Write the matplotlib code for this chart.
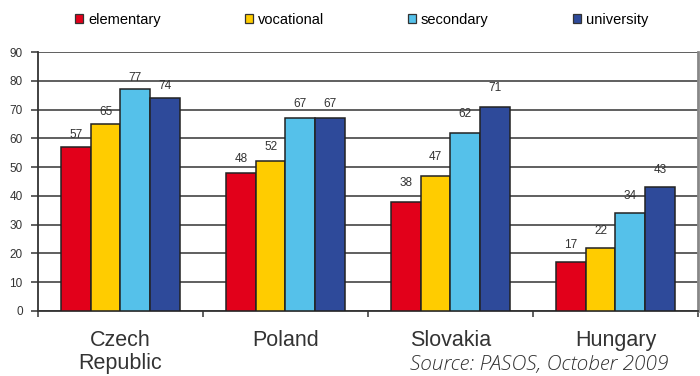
import matplotlib.pyplot as plt
import numpy as np
from matplotlib.patches import Patch

countries = ["Czech\nRepublic", "Poland", "Slovakia", "Hungary"]
levels = ["elementary", "vocational", "secondary", "university"]
elementary = [57, 48, 38, 17]
vocational = [65, 52, 47, 22]
secondary = [77, 67, 62, 34]
university = [74, 67, 71, 43]
colors = ["#E2001A", "#FFCC00", "#55C1EA", "#2E4A9A"]
# label gap above bar (points), the original is not consistent between groups
label_gap = [4, 6, 9, 8]

series = [elementary, vocational, secondary, university]
FONT = "Liberation Sans"

fig = plt.figure(figsize=(7, 3.76), dpi=100)
ax = fig.add_axes([0.0543, 0.1729, 0.9427, 0.6888])

x = np.arange(len(countries))
w = 0.18
for i, (vals, col) in enumerate(zip(series, colors)):
    pos = x + (i - 1.5) * w
    ax.bar(pos, vals, width=w, color=col, edgecolor="#222222", linewidth=1.1, zorder=3)
    for p, v, g in zip(pos, vals, label_gap):
        ax.annotate(str(v), (p, v), xytext=(0, g), textcoords="offset points",
                    ha="center", va="bottom", fontsize=8.5, color="#333333", family=FONT)

ax.set_xlim(-0.5, len(countries) - 0.5)
ax.set_ylim(0, 90)
ax.set_yticks(range(0, 91, 10))
ax.yaxis.grid(True, color="#444444", linewidth=1.2, zorder=0)
ax.set_axisbelow(True)

# category names centered, boundary ticks below the axis
ax.set_xticks(x)
ax.set_xticklabels(countries, fontsize=15.5, family=FONT, color="#333333", linespacing=1.12)
ax.tick_params(axis="x", which="major", length=0, pad=14)
ax.set_xticks(np.arange(-0.5, len(countries) + 0.5, 1), minor=True)
ax.tick_params(axis="x", which="minor", length=4, width=1.2, color="#444444")
ax.tick_params(axis="y", length=5, width=1.2, color="#444444", pad=6,
               labelsize=8.5, labelcolor="#333333")
for lab in ax.get_yticklabels():
    lab.set_family(FONT)

for s in ["left", "bottom"]:
    ax.spines[s].set_color("#333333")
    ax.spines[s].set_linewidth(1.3)
ax.spines["top"].set_visible(False)
ax.spines["right"].set_color("#888888")
ax.spines["right"].set_linewidth(2)

handles = [Patch(facecolor=c, edgecolor="#333333", linewidth=0.9) for c in colors]
fig.legend(handles, levels, loc="center left", bbox_to_anchor=(75 / 700, 0.947), ncol=4,
           frameon=False, handlelength=0.55, handleheight=0.55, handletextpad=0.35,
           columnspacing=5.75, borderpad=0, borderaxespad=0,
           prop={"family": FONT, "size": 10.5})

fig.text(410 / 700, 6 / 376, "Source: PASOS, October 2009", fontsize=15, style="italic",
         fontweight="light", family="Open Sans", color="#333333", ha="left", va="baseline")

fig.savefig("out.png", dpi=100)
